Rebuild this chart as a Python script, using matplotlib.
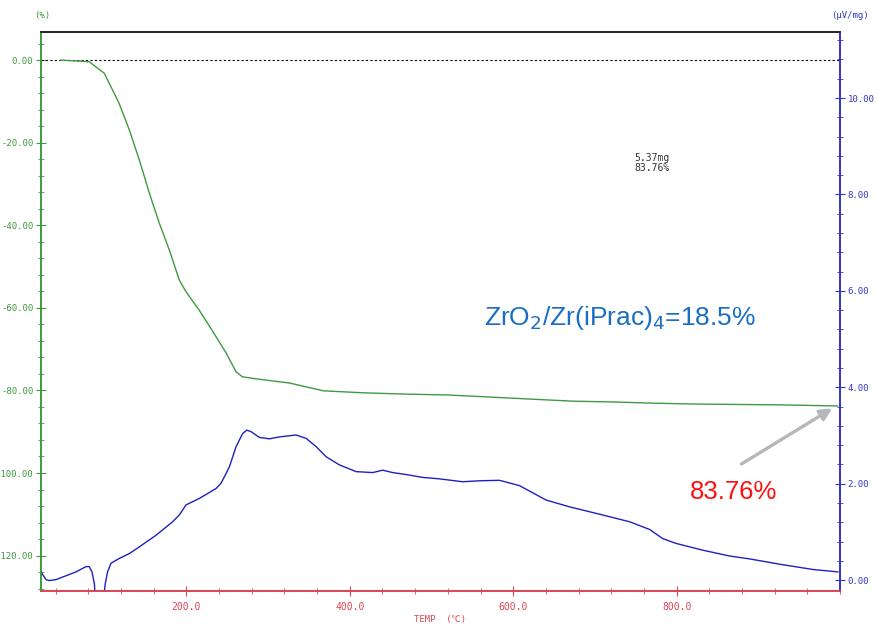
import numpy as np
import matplotlib.pyplot as plt
from matplotlib.ticker import MultipleLocator, FixedLocator

# TG trace (weight change, %) vs temperature
tg_temp = [46.5, 81, 99.5, 117.4, 130.1, 142.4, 154.6, 166.8, 179.1, 191.3, 199.5,
           215.4, 231.3, 248.5, 260.8, 268.5, 285.2, 326, 367.7, 419, 469.3, 519.5,
           571, 621, 672.5, 722.7, 773, 824, 874.5, 926, 997]
tg_pct = [0.0, -0.4, -3.2, -10.4, -16.9, -24.2, -32.2, -39.5, -46.0, -53.3, -56.1,
          -60.5, -65.4, -70.9, -75.5, -76.7, -77.2, -78.2, -80.1, -80.6, -80.9, -81.1,
          -81.6, -82.1, -82.6, -82.8, -83.1, -83.3, -83.4, -83.5, -83.76]

# DTA trace (uV/mg) vs temperature
dta_temp = [22, 28.1, 32.2, 40.4, 52.6, 64.9, 77.1, 81.1, 84.4, 87.3, 89, 92, 96,
            99.5, 100.7, 103.5, 107.7, 117.9, 130.1, 142.4, 162.8, 183.1, 191.3, 199.5,
            215.4, 236.3, 242.4, 246.4, 252.6, 260.8, 268.8, 273.8, 279.1, 289.3, 301.5,
            313.8, 334.2, 346.5, 358.7, 370.9, 387.2, 407.7, 428, 440.3, 452.5, 468.9,
            489.2, 509.7, 538.2, 558.7, 583.2, 607.6, 640.3, 668.9, 709.7, 742.5, 767,
            783.1, 799.5, 832.1, 864.8, 889.3, 926, 966.8, 997.4]
dta_val = [0.17, 0.01, -0.01, 0.01, 0.09, 0.17, 0.28, 0.28, 0.17, -0.07, -0.5, -1.0, -0.7,
           -0.24, -0.07, 0.17, 0.35, 0.45, 0.55, 0.69, 0.93, 1.21, 1.35, 1.56,
           1.69, 1.90, 2.01, 2.14, 2.35, 2.77, 3.04, 3.11, 3.08, 2.96, 2.93,
           2.97, 3.01, 2.94, 2.77, 2.56, 2.39, 2.25, 2.23, 2.28, 2.23, 2.19,
           2.13, 2.10, 2.04, 2.06, 2.07, 1.96, 1.66, 1.52, 1.35, 1.21, 1.05,
           0.86, 0.76, 0.62, 0.50, 0.44, 0.33, 0.22, 0.17]

final_pct = 83.76
sample_mass = 5.37
oxide_ratio = 18.5

GREEN = "#3f9a3f"
BLUE = "#3434c4"
RED = "#dd4455"
MONO = ["DejaVu Sans Mono", "Noto Sans CJK JP"]

fig = plt.figure(figsize=(8.78, 6.26), dpi=100)
ax = fig.add_axes([0.0467, 0.0564, 0.91, 0.8925])
ax2 = ax.twinx()

ax.set_xlim(22, 1000)
ax.set_ylim(-128.5, 6.8)
ax2.set_ylim(-0.22, 11.37)

ax.plot(tg_temp, tg_pct, color=GREEN, lw=1.0, zorder=3)
ax.axhline(0, color="black", lw=0.8, ls=(0, (2, 2)), zorder=2)
ax2.plot(dta_temp, dta_val, color="#2020c0", lw=1.0)

# spines
for a in (ax, ax2):
    a.spines["left"].set_color(GREEN)
    a.spines["right"].set_color(BLUE)
    a.spines["bottom"].set_color(RED)
    a.spines["top"].set_color("#222222")
    for s in a.spines.values():
        s.set_linewidth(1.2)

# x axis
ax.xaxis.set_major_locator(FixedLocator([200, 400, 600, 800]))
ax.xaxis.set_minor_locator(MultipleLocator(40))
ax.set_xticklabels(["200.0", "400.0", "600.0", "800.0"])
ax.tick_params(axis="x", which="both", direction="inout", colors=RED, labelcolor=RED)
ax.tick_params(axis="x", which="major", length=7, labelsize=7, pad=5)
ax.tick_params(axis="x", which="minor", length=4)
for lbl in ax.get_xticklabels():
    lbl.set_family(MONO)
ax.set_xlabel("TEMP  (℃)", color=RED, fontsize=6.5, family=MONO, labelpad=2)

# left axis (TG)
ax.yaxis.set_major_locator(MultipleLocator(20))
ax.yaxis.set_minor_locator(MultipleLocator(4))
ax.tick_params(axis="y", which="both", direction="inout", colors=GREEN, labelcolor=GREEN)
ax.tick_params(axis="y", which="major", length=7, labelsize=6.5, pad=2)
ax.tick_params(axis="y", which="minor", length=4)
ax.yaxis.set_major_formatter(lambda v, p: f"{v:.2f}")
for lbl in ax.get_yticklabels():
    lbl.set_family(MONO)

# right axis (DTA)
ax2.yaxis.set_major_locator(MultipleLocator(2))
ax2.yaxis.set_minor_locator(MultipleLocator(0.4))
ax2.tick_params(axis="y", which="both", direction="inout", colors=BLUE, labelcolor=BLUE)
ax2.tick_params(axis="y", which="major", length=7, labelsize=6.5, pad=2)
ax2.tick_params(axis="y", which="minor", length=4)
ax2.yaxis.set_major_formatter(lambda v, p: f"{v:.2f}")
for lbl in ax2.get_yticklabels():
    lbl.set_family(MONO)

# unit labels above the axes
fig.text(0.048, 0.975, "(%)", color=GREEN, fontsize=6.5, family=MONO, ha="center", va="center")
fig.text(0.048, 1.006, "TG", color=GREEN, fontsize=6.5, family=MONO, ha="center", va="center")
fig.text(0.968, 0.975, "(μV/mg)", color=BLUE, fontsize=6.5, family=MONO, ha="center", va="center")
fig.text(0.968, 1.006, "DTA", color=BLUE, fontsize=6.5, family=MONO, ha="center", va="center")

# readout of the sample
ax.text(0.743, 0.784, f"{sample_mass:.2f}mg\n{final_pct:.2f}%", transform=ax.transAxes,
        fontsize=7, family=MONO, color="#333333", va="top", ha="left", linespacing=1.1)

ax.text(0.555, 0.488, f"ZrO$_2$/Zr(iPrac)$_4$={oxide_ratio}%", transform=ax.transAxes,
        fontsize=19, color="#1a6fc4", family="Liberation Sans", va="center", ha="left")

ax.text(870, -104.5, f"{final_pct:.2f}%", fontsize=18.5, color="#ff1010",
        family="Liberation Sans", ha="center", va="center")
ax.annotate("", xy=(990.5, -final_pct - 0.6), xytext=(879.5, -97.8),
            arrowprops=dict(arrowstyle="-|>,head_length=0.7,head_width=0.35",
                            color="#b4b8bc", lw=2.4, shrinkA=0, shrinkB=0))

fig.savefig("out.png", dpi=100)
